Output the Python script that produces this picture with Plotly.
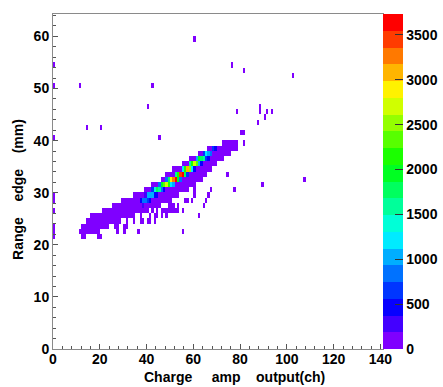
import colorsys
import plotly.graph_objects as go

# ---------------- data ----------------
N_XBINS = 141          # 1 ch per bin
N_YBINS = 64           # 1 mm per bin

# main band: for every x bin, lowest and highest filled y bin (low counts, violet)
band_x   = [11, 12, 13, 14, 15, 16, 17, 18, 19, 20, 21, 22, 23, 24, 25, 26, 27, 28,
            29, 30, 31, 32, 33, 34, 35, 36, 37, 38, 39, 40, 41, 42, 43, 44, 45, 46,
            47, 48, 49, 50, 51, 52, 53, 54, 55, 56, 57, 58, 59, 60, 61, 62, 63, 64,
            65, 66, 67, 68, 69, 70, 71, 72, 73, 74, 75, 76, 77, 78]
band_ylo = [22, 22, 22, 22, 22, 22, 22, 22, 22, 23, 23, 23, 23, 24, 24, 24, 24, 24,
            25, 25, 25, 25, 26, 26, 26, 26, 26, 26, 26, 26, 27, 27, 27, 27, 27, 28,
            28, 28, 28, 28, 29, 29, 29, 30, 30, 30, 30, 31, 31, 31, 32, 32, 32, 33,
            33, 34, 34, 35, 35, 36, 36, 36, 37, 37, 37, 38, 38, 38]
band_yhi = [22, 23, 23, 24, 24, 25, 25, 25, 25, 25, 26, 26, 26, 26, 27, 27, 27, 27,
            28, 28, 28, 28, 28, 29, 29, 29, 29, 29, 30, 30, 30, 31, 31, 31, 31, 32,
            32, 33, 33, 33, 34, 34, 34, 34, 35, 35, 35, 36, 36, 36, 36, 37, 37, 37,
            37, 38, 38, 38, 38, 38, 38, 39, 39, 39, 39, 39, 39, 39]
band_count = 90

# high-count ridge cells
ridge_x = [37, 38, 38, 39, 39, 40, 40, 41, 41, 42, 42, 43, 43, 44, 44, 45, 45, 46, 46,
           47, 47, 48, 48, 49, 49, 50, 50, 51, 51, 52, 52, 53, 53, 54, 54, 55, 55, 56,
           56, 57, 57, 58, 58, 59, 59, 60, 60, 61, 61, 62, 62, 63, 63, 64, 64, 65, 65,
           66, 66, 67, 68, 69]
ridge_y = [28, 28, 27, 28, 29, 29, 28, 29, 28, 29, 30, 30, 29, 30, 29, 30, 31, 31, 30,
           31, 30, 31, 32, 31, 32, 32, 31, 32, 31, 32, 33, 33, 32, 33, 32, 33, 34, 34,
           33, 34, 33, 34, 35, 35, 34, 35, 34, 35, 36, 36, 35, 36, 35, 36, 37, 37, 36,
           37, 36, 37, 38, 38]
ridge_z = [500, 800, 300, 900, 300, 1000, 600, 1100, 400, 1000, 600, 1400, 500, 1700,
           400, 1500, 800, 2000, 900, 2300, 500, 2700, 900, 2200, 1800, 2900, 1300,
           3200, 1000, 3600, 1500, 2100, 1900, 3500, 800, 3700, 1200, 2200, 1800, 3000,
           700, 2600, 1500, 2100, 1300, 2800, 500, 2300, 1000, 2000, 1100, 1800, 400,
           1500, 600, 1300, 700, 1000, 400, 800, 600, 400]

# isolated low-count cells
stray_x = [12, 13, 19, 20, 26, 27, 27, 30, 30, 31, 31, 33, 34, 34, 36, 37, 37, 38, 40,
           41, 41, 42, 43, 43, 44, 44, 46, 46, 47, 48, 48, 49, 49, 50, 50, 51, 51, 52,
           53, 53, 55, 55, 56, 57, 59, 60, 60, 62, 64, 65, 66, 67, 74, 77, 81, 80, 81,
           78, 87, 88, 88, 90, 91, 93, 89, 107, 102, 81, 76, 60, 42, 40, 45, 14, 20,
           11, 0, 0, 0, 0, 0, 0, 0, 0, 0]
stray_y = [21, 21, 21, 21, 23, 22, 23, 22, 23, 24, 23, 25, 25, 24, 22, 25, 24, 24, 24,
           25, 24, 26, 25, 24, 25, 26, 26, 25, 26, 25, 26, 26, 27, 26, 27, 27, 26, 26,
           27, 26, 22, 26, 28, 28, 28, 29, 30, 25, 27, 28, 29, 30, 33, 30, 39, 41, 41,
           45, 43, 45, 46, 44, 45, 45, 31, 32, 52, 53, 54, 59, 50, 46, 40, 42, 42,
           50, 54, 50, 40, 29, 28, 26, 23, 22, 21]
stray_count = 30

cbar_ticks = [0, 500, 1000, 1500, 2000, 2500, 3000, 3500]
z_max = 3734
n_levels = 20

x_title = "Charge\u00a0\u00a0\u00a0\u00a0\u00a0amp\u00a0\u00a0\u00a0\u00a0output(ch)"
y_title = "Range\u00a0\u00a0\u00a0\u00a0edge\u00a0\u00a0\u00a0\u00a0(mm)"

# ---------------- build histogram grid ----------------
z = [[None] * N_XBINS for _ in range(N_YBINS)]
for bx, lo, hi in zip(band_x, band_ylo, band_yhi):
    for by in range(lo, hi + 1):
        z[by][bx] = band_count
for bx, by in zip(stray_x, stray_y):
    z[by][bx] = stray_count
for bx, by, c in zip(ridge_x, ridge_y, ridge_z):
    z[by][bx] = c

xc = [i + 0.5 for i in range(N_XBINS)]
yc = [j + 0.5 for j in range(N_YBINS)]

# ROOT-like discrete rainbow palette (violet -> red), 20 levels
colorscale = []
for i in range(n_levels):
    hue = 270.0 * (n_levels - 1 - i) / (n_levels - 1) / 360.0
    r, g, b = colorsys.hls_to_rgb(hue, 0.5, 1.0)
    col = "rgb(%d,%d,%d)" % (round(r * 255), round(g * 255), round(b * 255))
    colorscale.append([i / n_levels, col])
    colorscale.append([(i + 1) / n_levels, col])

FONT = "Liberation Sans"
tickfont = dict(family=FONT, size=14, color="black", weight="bold")

fig = go.Figure(go.Heatmap(
    x=xc, y=yc, z=z,
    zmin=0, zmax=z_max,
    colorscale=colorscale,
    hoverongaps=False,
    colorbar=dict(
        thickness=20, thicknessmode="pixels",
        len=1, lenmode="fraction",
        x=1.0, xanchor="left", xpad=0,
        y=0.5, yanchor="middle", ypad=0,
        outlinewidth=0,
        tickvals=cbar_ticks,
        ticks="inside", ticklen=8, tickcolor="#333", tickwidth=1,
        tickfont=tickfont,
    ),
))

axis_common = dict(
    showgrid=False, zeroline=False, automargin=False,
    showline=True, linecolor="#8a8a8a", linewidth=1, mirror=True,
    ticks="inside", ticklen=5, tickcolor="#555", tickwidth=1,
    tickfont=tickfont,
)
fig.update_xaxes(range=[0, 141.1], tick0=0, dtick=20, ticklabelstandoff=-3,
                 minor=dict(dtick=4, ticks="inside", ticklen=3, tickcolor="#555"),
                 **axis_common)
fig.update_yaxes(range=[0, 64.3], tick0=0, dtick=10,
                 minor=dict(dtick=2, ticks="inside", ticklen=3, tickcolor="#555"),
                 **axis_common)

fig.update_layout(
    width=443, height=387,
    margin=dict(l=53, r=60, t=14, b=38, autoexpand=False),
    paper_bgcolor="white", plot_bgcolor="white",
    showlegend=False,
    annotations=[
        dict(text=x_title, xref="paper", yref="paper", x=0.5485, y=-0.083,
             xanchor="center", yanchor="middle", showarrow=False,
             font=dict(family=FONT, size=14, color="black", weight="bold")),
        dict(text=y_title, xref="paper", yref="paper", x=-0.106, y=0.475,
             xanchor="center", yanchor="middle", showarrow=False, textangle=-90,
             font=dict(family=FONT, size=14, color="black", weight="bold")),
    ],
)

fig.write_html("out.html",
               config={"displayModeBar": False},
               post_script="document.body.style.margin='0px';"
                           "document.body.style.overflow='hidden';")
